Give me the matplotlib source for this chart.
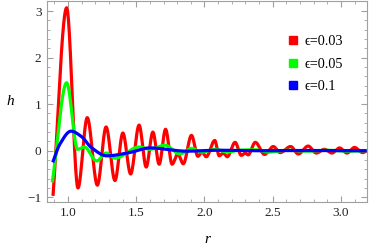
import numpy as np
import matplotlib
matplotlib.use("Agg")
import matplotlib.pyplot as plt
from matplotlib.lines import Line2D

# ---- data (extrema / key points) ----
r_red = [0.89, 0.99, 1.073, 1.141, 1.215, 1.279, 1.344, 1.402, 1.459, 1.521, 1.573, 1.622,
         1.668, 1.715, 1.763, 1.805, 1.845, 1.905, 1.952, 1.983, 2.013, 2.076, 2.108, 2.138,
         2.167, 2.225, 2.27, 2.30, 2.32, 2.373, 2.44, 2.505, 2.555, 2.632, 2.688, 2.76,
         2.82, 2.88, 2.935, 2.99, 3.045, 3.10, 3.16, 3.19]
h_red = [-0.97, 3.07, -0.80, 0.71, -0.74, 0.51, -0.64, 0.38, -0.50, 0.55, -0.35, 0.40,
         -0.29, 0.46, -0.29, -0.07, -0.28, 0.33, -0.12, -0.03, -0.13, 0.22, -0.11, -0.05,
         -0.13, 0.18, -0.10, -0.05, -0.09, 0.18, -0.08, 0.09, -0.04, 0.09, -0.07, 0.10,
         -0.05, 0.03, -0.05, 0.06, -0.05, 0.07, -0.04, 0.0]

r_green = [0.885, 0.99, 1.07, 1.12, 1.21, 1.28, 1.345, 1.52, 1.60, 1.71, 1.82, 1.905,
           1.98, 2.08, 2.17, 2.25, 2.37, 2.47, 2.6, 2.75, 2.9, 3.05, 3.19]
h_green = [-0.68, 1.46, 0.03, 0.08, -0.22, -0.05, -0.16, 0.08, 0.03, 0.12, -0.07, 0.05,
           -0.03, 0.03, -0.03, 0.01, 0.02, -0.03, 0.01, -0.01, 0.01, -0.01, 0.0]

r_blue = [0.888, 0.94, 1.022, 1.10, 1.17, 1.285, 1.45, 1.60, 1.87, 2.1, 2.4, 2.7, 3.0, 3.19]
h_blue = [-0.25, 0.14, 0.42, 0.30, 0.07, -0.11, -0.04, 0.06, -0.01, 0.01, 0.0, 0.005, 0.0, 0.0]

labels = ["\u03f5=0.03", "\u03f5=0.05", "\u03f5=0.1"]
colors = ["#ff0000", "#00ff00", "#0000ff"]


def pchip(x, y, xn):
    x = np.asarray(x, float); y = np.asarray(y, float)
    h = np.diff(x); d = np.diff(y) / h
    n = len(x); m = np.zeros(n)
    for k in range(1, n - 1):
        if d[k - 1] * d[k] > 0:
            w1 = 2 * h[k] + h[k - 1]; w2 = h[k] + 2 * h[k - 1]
            m[k] = (w1 + w2) / (w1 / d[k - 1] + w2 / d[k])
    m[0] = d[0]; m[-1] = d[-1]
    idx = np.clip(np.searchsorted(x, xn) - 1, 0, n - 2)
    t = (xn - x[idx]) / h[idx]
    h00 = 2 * t**3 - 3 * t**2 + 1; h10 = t**3 - 2 * t**2 + t
    h01 = -2 * t**3 + 3 * t**2; h11 = t**3 - t**2
    return h00 * y[idx] + h10 * h[idx] * m[idx] + h01 * y[idx + 1] + h11 * h[idx] * m[idx + 1]


plt.rcParams['font.family'] = ['Liberation Serif', 'DejaVu Serif']
fig = plt.figure(figsize=(3.74, 2.49), dpi=100)
ax = fig.add_axes([0.1257, 0.189, 0.855, 0.806])

for rr, hh, c in [(r_red, h_red, colors[0]), (r_green, h_green, colors[1]), (r_blue, h_blue, colors[2])]:
    xs = np.linspace(rr[0], rr[-1], 1500)
    ax.plot(xs, pchip(rr, hh, xs), color=c, lw=2.3, solid_capstyle='butt')

ax.set_xlim(0.846, 3.19)
ax.set_ylim(-1.1, 3.21)
ax.set_xticks([1.0, 1.5, 2.0, 2.5, 3.0])
ax.set_xticklabels(["1.0", "1.5", "2.0", "2.5", "3.0"])
ax.set_yticks([-1, 0, 1, 2, 3])
ax.set_yticklabels(["\u22121", "0", "1", "2", "3"])
ax.set_xticks(np.arange(0.9, 3.2, 0.1), minor=True)
ax.set_yticks(np.arange(-1.0, 3.2, 0.2), minor=True)
for s in ax.spines.values():
    s.set_color('#a0a0a0'); s.set_linewidth(0.8)
ax.tick_params(which='both', direction='in', top=True, right=True, color='#a0a0a0',
               labelsize=9.5, labelcolor='#222222', pad=4)
ax.tick_params(which='major', length=4)
ax.tick_params(which='minor', length=2)

ax.set_xlabel("r", fontsize=11, style='italic', labelpad=9.5)
ax.set_ylabel("h", fontsize=11, style='italic', rotation=0, labelpad=12, va='center')

handles = [Line2D([], [], marker='s', color=c, linestyle='None', markersize=5.3) for c in colors]
ax.legend(handles, labels, loc='center left', bbox_to_anchor=(0.752, 0.686), frameon=False,
          fontsize=10.3, handlelength=0.8, handletextpad=0.4, labelspacing=0.65,
          borderaxespad=0, borderpad=0)

fig.savefig("out.png", dpi=100)
